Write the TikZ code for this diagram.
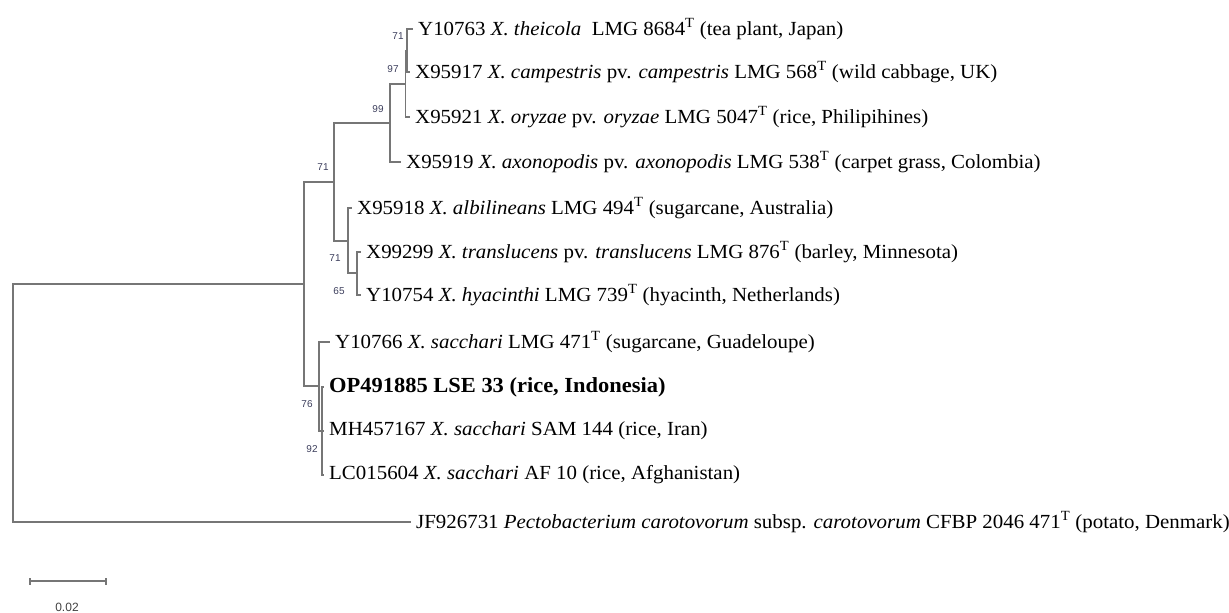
\documentclass[tikz,border=0pt]{standalone}
\usepackage{fontspec}
\setmainfont{Liberation Serif}[FakeStretch=1.045]
\newfontfamily\bootfont{Liberation Sans}
\usepackage{tikz}

\definecolor{branchgray}{RGB}{118,118,118}
\definecolor{bootblue}{RGB}{60,62,92}

\begin{document}
\begin{tikzpicture}[x=1pt, y=-1pt,
        branch/.style={draw=branchgray, line width=1.3pt},
        taxon/.style={anchor=west, inner xsep=5pt, inner ysep=0pt, font=\fontsize{20}{24}\selectfont},
        boot/.style={text=bootblue, inner sep=0pt, font=\bootfont\fontsize{10}{11}\selectfont}]
        \useasboundingbox (0,0) rectangle (1229,613);

        % internal nodes
        \coordinate (root) at (13,403);
        \coordinate (ingroup) at (304,284);
        \coordinate (n_axo) at (334,182);
        \coordinate (n_ory) at (390,123);
        \coordinate (n_cam) at (405.5,84);
        \coordinate (n_the) at (407,51);
        \coordinate (n_alb) at (348,241);
        \coordinate (n_tra) at (357,273);
        \coordinate (n_sac) at (319,386);
        \coordinate (n_lse) at (322,431);

        % tips
        \coordinate (t_the) at (413,29);
        \coordinate (t_cam) at (410,72);
        \coordinate (t_ory) at (410,117);
        \coordinate (t_axo) at (401,162);
        \coordinate (t_alb) at (352,208);
        \coordinate (t_tra) at (361,252);
        \coordinate (t_hya) at (361,295);
        \coordinate (t_sac) at (330,342);
        \coordinate (t_lse) at (324,387);
        \coordinate (t_mh) at (324,431);
        \coordinate (t_lc) at (324,475);
        \coordinate (t_pec) at (411,522);

        \draw[branch] (root) |- (ingroup);
        \draw[branch] (root) |- (t_pec);
        \draw[branch] (ingroup) |- (n_axo);
        \draw[branch] (ingroup) |- (n_sac);
        \draw[branch] (n_axo) |- (n_ory);
        \draw[branch] (n_axo) |- (n_alb);
        \draw[branch] (n_ory) |- (n_cam);
        \draw[branch] (n_ory) |- (t_axo);
        \draw[branch] (n_cam) |- (n_the);
        \draw[branch] (n_cam) |- (t_ory);
        \draw[branch] (n_the) |- (t_the);
        \draw[branch] (n_the) |- (t_cam);
        \draw[branch] (n_alb) |- (t_alb);
        \draw[branch] (n_alb) |- (n_tra);
        \draw[branch] (n_tra) |- (t_tra);
        \draw[branch] (n_tra) |- (t_hya);
        \draw[branch] (n_sac) |- (t_sac);
        \draw[branch] (n_sac) |- (n_lse);
        \draw[branch] (n_lse) |- (t_lse);
        \draw[branch] (n_lse) |- (t_mh);
        \draw[branch] (n_lse) |- (t_lc);

        \node[taxon] (l_the) at (t_the) {Y10763 \textit{X. theicola}\ \ LMG 8684\textsuperscript{T} (tea plant, Japan)};
        \node[taxon] (l_cam) at (t_cam) {X95917 \textit{X. campestris} pv. \textit{campestris} LMG 568\textsuperscript{T} (wild cabbage, UK)};
        \node[taxon] (l_ory) at (t_ory) {X95921 \textit{X. oryzae} pv. \textit{oryzae} LMG 5047\textsuperscript{T} (rice, Philipihines)};
        \node[taxon] (l_axo) at (t_axo) {X95919 \textit{X. axonopodis} pv. \textit{axonopodis} LMG 538\textsuperscript{T} (carpet grass, Colombia)};
        \node[taxon] (l_alb) at (t_alb) {X95918 \textit{X. albilineans} LMG 494\textsuperscript{T} (sugarcane, Australia)};
        \node[taxon] (l_tra) at (t_tra) {X99299 \textit{X. translucens} pv. \textit{translucens} LMG 876\textsuperscript{T} (barley, Minnesota)};
        \node[taxon] (l_hya) at (t_hya) {Y10754 \textit{X. hyacinthi} LMG 739\textsuperscript{T} (hyacinth, Netherlands)};
        \node[taxon] (l_sac) at (t_sac) {Y10766 \textit{X. sacchari} LMG 471\textsuperscript{T} (sugarcane, Guadeloupe)};
        \node[taxon, font=\fontsize{21.5}{24}\selectfont\bfseries] (l_lse) at (t_lse) {OP491885 LSE 33 (rice, Indonesia)};
        \node[taxon] (l_mh) at (t_mh) {MH457167 \textit{X. sacchari} SAM 144 (rice, Iran)};
        \node[taxon] (l_lc) at (t_lc) {LC015604 \textit{X. sacchari} AF 10 (rice, Afghanistan)};
        \node[taxon] (l_pec) at (t_pec) {JF926731 \textit{Pectobacterium carotovorum} subsp. \textit{carotovorum} CFBP 2046 471\textsuperscript{T} (potato, Denmark)};

        % bootstrap values
        \node[boot] (b_the) at (398,36) {71};
        \node[boot] (b_cam) at (393,69) {97};
        \node[boot] (b_ory) at (378,109) {99};
        \node[boot] (b_axo) at (323,167) {71};
        \node[boot] (b_alb) at (335,258) {71};
        \node[boot] (b_tra) at (339,291) {65};
        \node[boot] (b_sac) at (307,404) {76};
        \node[boot] (b_lse) at (312,449) {92};

        % scale bar
        \coordinate (bar_l) at (30,581);
        \coordinate (bar_r) at (106,581);
        \draw[branch, line width=1.2pt] (bar_l) -- (bar_r);
        \draw[branch, line width=1.2pt] ([yshift=-3.5]bar_l) -- ([yshift=3.5]bar_l);
        \draw[branch, line width=1.2pt] ([yshift=-3.5]bar_r) -- ([yshift=3.5]bar_r);
        \node[boot, text=black!75, font=\bootfont\fontsize{12}{13}\selectfont] (bar_lab) at (67,607) {0.02};
\end{tikzpicture}
\end{document}
